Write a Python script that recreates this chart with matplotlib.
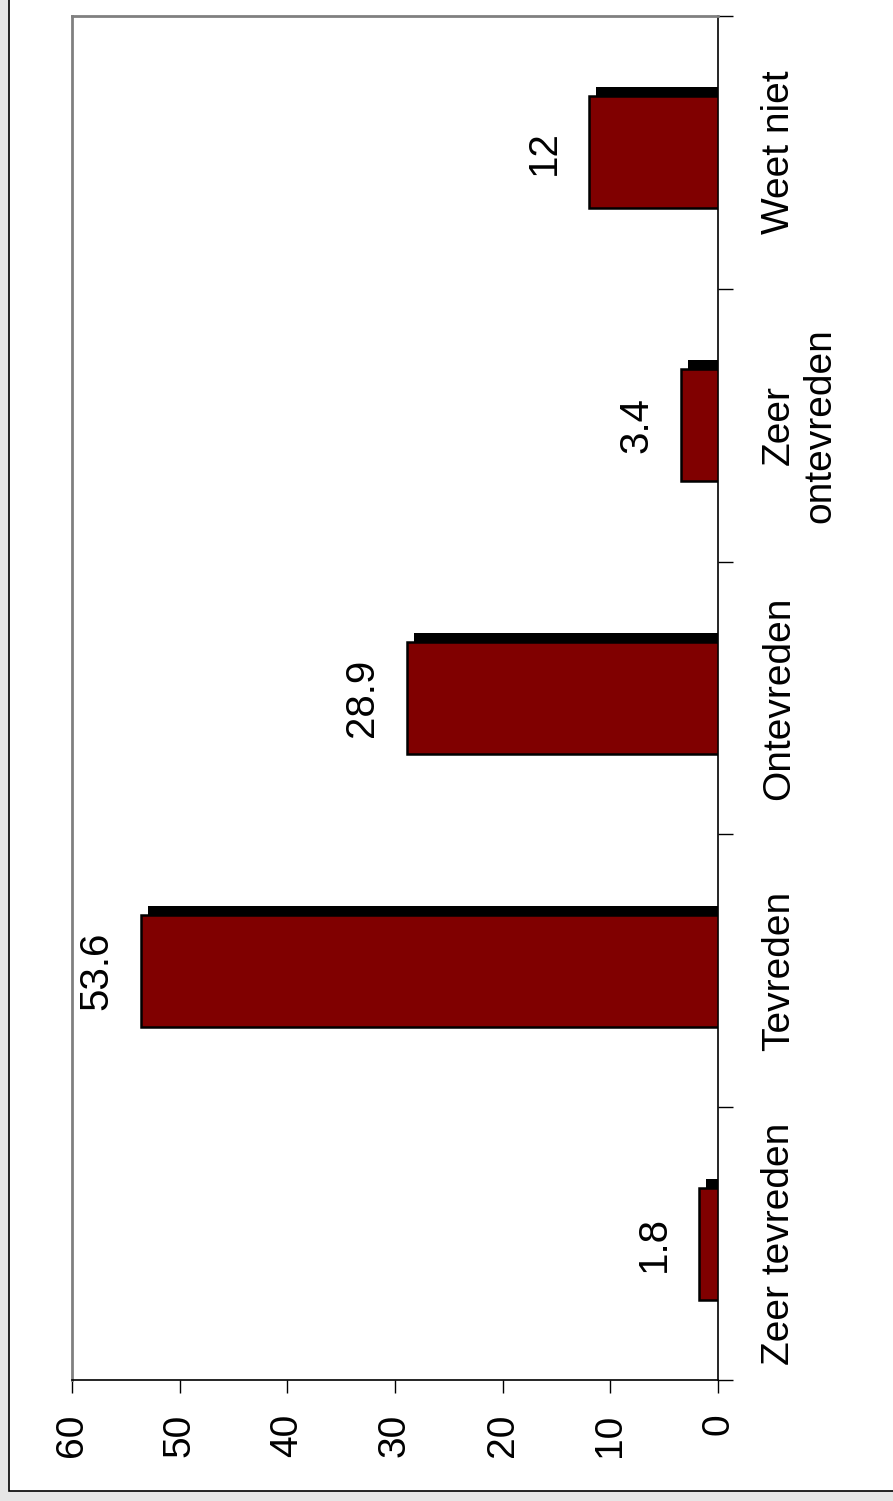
import matplotlib
matplotlib.use("Agg")
import matplotlib.pyplot as plt
import matplotlib.patheffects as pe
from matplotlib.patches import Rectangle
import numpy as np

plt.rcParams['font.family'] = ['Liberation Sans', 'DejaVu Sans']

categories = ["Zeer tevreden", "Tevreden", "Ontevreden", "Zeer\nontevreden", "Weet niet"]
values = [1.8, 53.6, 28.9, 3.4, 12]
value_labels = ["1.8", "53.6", "28.9", "3.4", "12"]

fig = plt.figure(figsize=(8.93, 15.01), dpi=100, facecolor="#e6e6e6")
# white panel with black border, behind the axes
fig.patches.append(Rectangle((9 / 893, 10 / 1501), 1.2, 1.2, transform=fig.transFigure,
                             facecolor="white", edgecolor="black", linewidth=1.2, zorder=-1))

ax = fig.add_axes([72 / 893, 121 / 1501, 646 / 893, 1364 / 1501])
ax.set_facecolor("white")

y = np.arange(len(categories))
bars = ax.barh(y, values, height=0.41, color="#800000", edgecolor="black", linewidth=1.8, zorder=3)
for b in bars:
    b.set_path_effects([pe.SimplePatchShadow(offset=(5, 6.5), shadow_rgbFace="black", alpha=1.0, rho=1),
                        pe.Normal()])

for yi, v, lab in zip(y, values, value_labels):
    ax.annotate(lab, (v, yi), xytext=(-32, 0), textcoords="offset points",
                rotation=90, ha="center", va="center", fontsize=29)

ax.set_xlim(60, 0)
ax.set_ylim(-0.5, len(categories) - 0.5)

ax.set_xticks(np.arange(0, 61, 10))
ax.set_xticklabels([str(t) for t in range(0, 61, 10)], rotation=90, fontsize=28)
ax.tick_params(axis="x", direction="out", length=9, width=1, pad=15, colors="black")

ax.yaxis.tick_right()
ax.set_yticks(y)
ax.set_yticklabels(categories, rotation=90, fontsize=28, va="center", ha="left", multialignment="center")
ax.set_yticks(np.arange(-0.5, len(categories), 1), minor=True)
ax.tick_params(axis="y", which="major", length=0, pad=31)
ax.tick_params(axis="y", which="minor", direction="out", length=11, width=1)

ax.spines["top"].set_color("#808080")
ax.spines["top"].set_linewidth(2)
ax.spines["left"].set_color("#808080")
ax.spines["left"].set_linewidth(2)
ax.spines["right"].set_color("black")
ax.spines["right"].set_linewidth(1.2)
ax.spines["bottom"].set_color("black")
ax.spines["bottom"].set_linewidth(1.2)

fig.savefig("out.png", dpi=100, facecolor=fig.get_facecolor())
